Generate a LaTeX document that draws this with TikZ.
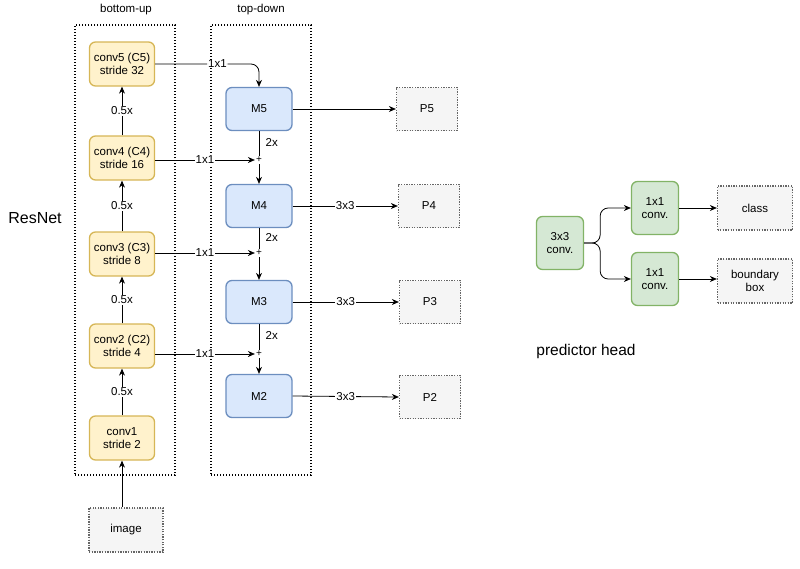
\documentclass[tikz,border=0pt]{standalone}
\usepackage{fontspec}
\setmainfont{Liberation Sans}
\usetikzlibrary{arrows.meta}
\definecolor{convfill}{HTML}{FFF2CC}
\definecolor{convline}{HTML}{D6B656}
\definecolor{mergefill}{HTML}{DAE8FC}
\definecolor{mergeline}{HTML}{6C8EBF}
\definecolor{headfill}{HTML}{D5E8D4}
\definecolor{headline}{HTML}{82B366}
\definecolor{outfill}{HTML}{F5F5F5}
\definecolor{outline}{HTML}{666666}
\begin{document}
\begin{tikzpicture}[x=1pt, y=-1pt,
		every node/.style = {font=\fontsize{11.5}{13}\selectfont, align=center},
		conv/.style = {shape=rectangle, rounded corners=6pt, draw=convline, fill=convfill,
			line width=1.3pt, minimum width=65pt, minimum height=44pt},
		merge/.style = {shape=rectangle, rounded corners=6pt, draw=mergeline, fill=mergefill,
			line width=1.3pt, minimum width=66pt, minimum height=43pt},
		head/.style = {shape=rectangle, rounded corners=6pt, draw=headline, fill=headfill,
			line width=1.3pt, minimum width=47pt, minimum height=53pt},
		outbox/.style = {shape=rectangle, draw=outline, fill=outfill, line width=1.3pt,
			dash pattern=on 1.3pt off 1.3pt, minimum width=61pt, minimum height=43pt},
		group/.style = {shape=rectangle, draw, line width=1.4pt,
			dash pattern=on 1.4pt off 1.6pt, minimum width=100pt, minimum height=450pt},
		lbl/.style = {fill=white, inner sep=1pt},
		sum/.style = {inner sep=1pt, font=\fontsize{10}{10}\selectfont},
		arr/.style = {-{Stealth[length=7pt, width=6pt]}, line width=0.8pt},
		link/.style = {line width=0.8pt}]
	\useasboundingbox (0,0) rectangle (800,568);

	\node[group] (bu) at (125,250) {};
	\node[group] (td) at (261,250) {};
	\node (bulbl) at (126,10) {bottom-up};
	\node (tdlbl) at (261,10) {top-down};
	\node[font=\fontsize{16}{18}\selectfont] (resnet) at (35,218) {ResNet};

	\node[conv] (c5) at (122,64) {conv5 (C5)\\stride 32};
	\node[conv] (c4) at (122,158) {conv4 (C4)\\stride 16};
	\node[conv] (c3) at (122,254) {conv3 (C3)\\stride 8};
	\node[conv] (c2) at (122,346) {conv2 (C2)\\stride 4};
	\node[conv] (c1) at (122,438) {conv1\\stride 2};
	\node[outbox, minimum width=74pt, minimum height=44pt] (img) at (126,530) {image};

	\node[merge] (m5) at (259,109) {M5};
	\node[merge] (m4) at (259,206) {M4};
	\node[merge] (m3) at (259,302) {M3};
	\node[merge] (m2) at (259,396) {M2};
	\node[sum] (s4) at (259,160) {+};
	\node[sum] (s3) at (259,253) {+};
	\node[sum] (s2) at (259,354) {+};

	\node[outbox] (p5) at (427,109) {P5};
	\node[outbox] (p4) at (429,206) {P4};
	\node[outbox] (p3) at (430,302) {P3};
	\node[outbox] (p2) at (430,397) {P2};

	\draw[arr] (c1.south |- img.north) -- (c1.south);
	\draw[arr] (c1) -- node[lbl] {0.5x} (c2);
	\draw[arr] (c2) -- node[lbl] {0.5x} (c3);
	\draw[arr] (c3) -- node[lbl] {0.5x} (c4);
	\draw[arr] (c4) -- node[lbl] {0.5x} (c5);

	\draw[arr, rounded corners=8pt] (c5.east) -| node[lbl, pos=0.3] {1x1} (m5.north);
	\draw[arr] (c4.east |- s4) -- node[lbl] {1x1} (s4.west);
	\draw[arr] (c3.east |- s3) -- node[lbl] {1x1} (s3.west);
	\draw[arr] (c2.east |- s2) -- node[lbl] {1x1} (s2.west);

	\draw[link] (m5) -- node[right=3pt, pos=0.45] {2x} (s4);
	\draw[link] (m4) -- node[right=3pt, pos=0.45] {2x} (s3);
	\draw[link] (m3) -- node[right=3pt, pos=0.45] {2x} (s2);
	\draw[arr] (s4) -- (m4);
	\draw[arr] (s3) -- (m3);
	\draw[arr] (s2) -- (m2);

	\draw[arr] (m5) -- (p5);
	\draw[arr] (m4) -- node[lbl] {3x3} (p4);
	\draw[arr] (m3) -- node[lbl] {3x3} (p3);
	\draw[arr] (m2.east) -- node[lbl] {3x3} (p2.west);

	\node[head] (h3) at (560,243) {3x3\\conv.};
	\node[head] (h1a) at (655,208) {1x1\\conv.};
	\node[head] (h1b) at (655,279) {1x1\\conv.};
	\node[outbox, minimum width=75pt, minimum height=44pt] (cls) at (755,208) {class};
	\node[outbox, minimum width=75pt, minimum height=44pt] (box) at (755,281) {boundary\\box};
	\node[font=\fontsize{15.5}{18}\selectfont] (predlbl) at (586,351) {predictor head};

	\draw[arr, rounded corners=8pt] (h3.east) -- ++(16,0) |- (h1a.west);
	\draw[arr, rounded corners=8pt] (h3.east) -- ++(16,0) |- (h1b.west);
	\draw[arr] (h1a) -- (cls);
	\draw[arr] (h1b.east) -- (box.west |- h1b.east);
\end{tikzpicture}
\end{document}
